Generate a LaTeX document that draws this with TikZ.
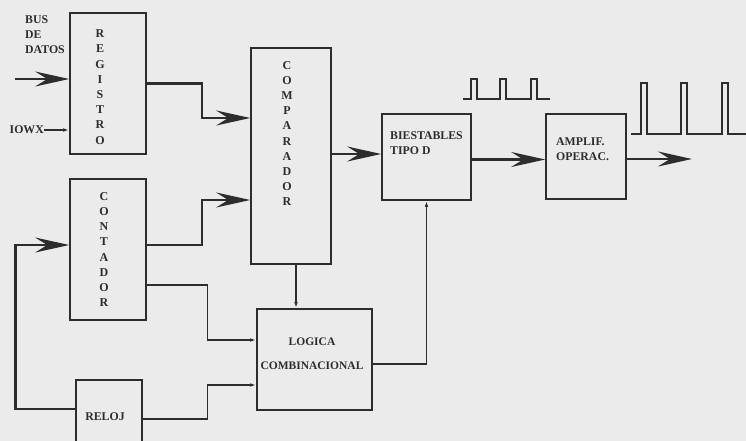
\documentclass[tikz,border=0pt]{standalone}
\usepackage{fontspec}
\setmainfont{Liberation Serif}
\usetikzlibrary{arrows.meta}

\definecolor{fondo}{RGB}{235,235,235}
\definecolor{tinta}{RGB}{45,45,45}

\tikzset{
    bloque/.style={draw=tinta, line width=1.6pt, inner sep=0pt},
    letras/.style={text=tinta, align=center, inner sep=0pt,
        font=\bfseries\fontsize{12}{15.2}\selectfont},
    texto/.style={text=tinta, align=left, inner sep=0pt,
        font=\bfseries\fontsize{11.8}{15}\selectfont},
    gruesa/.style={draw=tinta, line width=2.6pt,
        -{Stealth[length=34pt, width=15pt, inset=12pt]}},
    fina/.style={draw=tinta, line width=1.3pt,
        -{Latex[length=6pt, width=3.5pt]}},
    onda/.style={draw=tinta, line width=1.2pt}
}

\begin{document}
\begin{tikzpicture}[x=1pt, y=-1pt]
    \path[use as bounding box, fill=fondo] (0,0) rectangle (746,441);

    % Bloques
    \node[bloque, minimum width=76pt, minimum height=141pt] (reg) at (108,83.5) {};
    \node[bloque, minimum width=76pt, minimum height=141pt] (cont) at (108,249.5) {};
    \node[bloque, minimum width=66pt, minimum height=68pt] (reloj) at (109,414) {};
    \node[bloque, minimum width=80pt, minimum height=216pt] (comp) at (291,156) {};
    \node[bloque, minimum width=89pt, minimum height=86pt] (bies) at (426.5,157) {};
    \node[bloque, minimum width=115pt, minimum height=101pt] (logica) at (314.5,359.5) {};
    \node[bloque, minimum width=80pt, minimum height=85pt] (amp) at (586,156.5) {};

    % Textos
    \node[letras] (reg-t) at (100,87) {R\\E\\G\\I\\S\\T\\R\\O};
    \node[letras] (cont-t) at (104,249.5) {C\\O\\N\\T\\A\\D\\O\\R};
    \node[letras] (comp-t) at (287,133.5) {C\\O\\M\\P\\A\\R\\A\\D\\O\\R};
    \node[texto] (reloj-t) at (105,417) {RELOJ};
    \node[texto, anchor=west] (bies-t) at (390,143.5) {BIESTABLES\\TIPO D};
    \node[texto, anchor=west] (amp-t) at (556,149.5) {AMPLIF.\\OPERAC.};
    \node[texto, align=center, font=\bfseries\fontsize{11.5}{24}\selectfont] (logica-t)
        at (312,354) {LOGICA\\COMBINACIONAL};
    \node[texto, anchor=west] (bus) at (25,35) {BUS\\DE\\DATOS};
    \node[texto, anchor=east] (iowx) at (44,130) {IOWX};

    % Entradas
    \coordinate (datos) at (15,79);
    \draw[gruesa] (datos) -- (datos -| reg.west);
    \draw[fina] (iowx.east) -- (iowx.east -| reg.west);

    % Hacia el comparador
    \draw[gruesa] (reg.east) -- ++(55,0) |- ([yshift=38pt]comp.west);
    \draw[gruesa] ([yshift=4.5pt]cont.east) -- ++(55,0) |- ([yshift=-44pt]comp.west);

    % Cadena de salida
    \draw[gruesa] ([yshift=2pt]comp.east) -- ([yshift=2pt]comp.east -| bies.west);
    \draw[gruesa] ([yshift=-2.5pt]bies.east) -- ([yshift=-2.5pt]bies.east -| amp.west);
    \coordinate (salida) at (692,159);
    \draw[gruesa] (amp.east |- salida) -- (salida);

    % Reloj y realimentacion
    \draw[gruesa] ([yshift=5pt]reloj.west) -- ++(-60,0) |- ([yshift=4.5pt]cont.west);
    \draw[fina] ([yshift=-35.5pt]cont.east) -- ++(61,0) |- ([yshift=19.5pt]logica.west);
    \draw[fina] ([yshift=-5pt]reloj.east) -- ++(65,0) |- ([yshift=-25.5pt]logica.west);
    \draw[fina] ([xshift=5pt]comp.south) -- ([xshift=5pt]comp.south |- logica.north);
    \draw[fina] ([yshift=-4.5pt]logica.east) -| (bies.south);

    % Formas de onda
    \draw[onda] (463,99) -- (471,99) -- (471,79) -- (477,79) -- (477,99)
        -- (500,99) -- (500,79) -- (506,79) -- (506,99)
        -- (531,99) -- (531,79) -- (537,79) -- (537,99) -- (550,99);
    \draw[onda] (631,134) -- (641,134) -- (641,83) -- (647,83) -- (647,134)
        -- (681,134) -- (681,83) -- (687,83) -- (687,134)
        -- (722,134) -- (722,83) -- (728,83) -- (728,134) -- (746,134);
\end{tikzpicture}
\end{document}
